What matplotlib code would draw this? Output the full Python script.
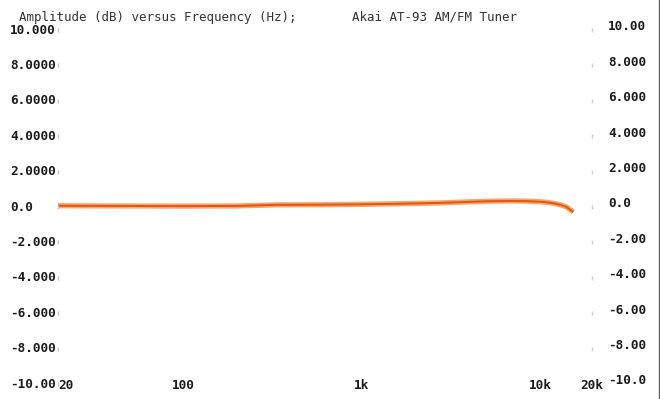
import numpy as np
import matplotlib
matplotlib.use("Agg")
import matplotlib.pyplot as plt
from matplotlib.lines import Line2D

# response curve (Hz, dB)
freq_hz = [20, 40, 100, 200, 333, 600, 1000, 2000, 2700, 4000, 5300, 7000, 8400, 10000, 11000, 12000, 13000, 14000, 15300]
level_db = [0.07, 0.06, 0.05, 0.06, 0.12, 0.13, 0.15, 0.20, 0.23, 0.29, 0.33, 0.34, 0.33, 0.30, 0.26, 0.20, 0.12, 0.01, -0.28]

# axis labels as printed
y_ticks = [10, 8, 6, 4, 2, 0, -2, -4, -6, -8, -10]
y_left_labels = ["10.000", "8.0000", "6.0000", "4.0000", "2.0000", "0.0",
                 "-2.000", "-4.000", "-6.000", "-8.000", "-10.00"]
y_right_labels = ["10.00", "8.000", "6.000", "4.000", "2.000", "0.0",
                  "-2.00", "-4.00", "-6.00", "-8.00", "-10.0"]
x_ticks = [20, 100, 1000, 10000, 20000]
x_labels = ["20", "100", "1k", "10k", "20k"]

title_left = "Amplitude (dB) versus Frequency (Hz);"
title_right = "Akai AT-93 AM/FM Tuner"

W, H = 660, 399
fig = plt.figure(figsize=(W / 100, H / 100), dpi=100)
x0, x1 = 58, 594
y_top, y_bot = 30, 384
ax = fig.add_axes([x0 / W, (H - y_bot) / H, (x1 - x0) / W, (y_bot - y_top) / H])
ax.set_xscale("log")
ax.set_xlim(20, 20000)
ax.set_ylim(-10, 10)
ax.axis("off")

# curve: orange halo with a redder core
ax.plot(freq_hz, level_db, color="#f6a862", lw=3.8, solid_capstyle="butt")
ax.plot(freq_hz, level_db, color="#e4521e", lw=1.4, solid_capstyle="butt")

mono = dict(family="DejaVu Sans Mono", fontsize=9.2, color="#1c1c1c", weight="bold")
ytr = ax.get_yaxis_transform()
for v, lab_l, lab_r in zip(y_ticks, y_left_labels, y_right_labels):
    ax.text((10 - x0) / (x1 - x0), v, lab_l, transform=ytr, ha="left", va="center", **mono)
    ax.text((608 - x0) / (x1 - x0), v + 0.17, lab_r, transform=ytr, ha="left", va="center", **mono)

# faint marks next to the scale labels
ax.plot([20] * len(y_ticks), y_ticks, ls="none", marker="|", ms=2.5, color="#c8c8c8", clip_on=False)
ax.plot([20000 * 0.97] * len(y_ticks), y_ticks, ls="none", marker="|", ms=2.5, color="#d0d0d0", clip_on=False)

xtr = ax.get_xaxis_transform()
for f, lab in zip(x_ticks, x_labels):
    ha = "left" if f == 20 else "center"
    xf = f * 1.005 if f == 20 else f * 0.97 if f == 20000 else f
    ax.text(xf, -0.003, lab, transform=xtr, ha=ha, va="center", **mono)

title = dict(family="DejaVu Sans Mono", fontsize=9.0, color="#333333")
fig.text(19 / W, 1 - 17 / H, title_left, ha="left", va="center", **title)
fig.text(352 / W, 1 - 17 / H, title_right, ha="left", va="center", **title)

# right edge line of the scanned page
fig.add_artist(Line2D([658.5 / W, 658.5 / W], [0, 1], transform=fig.transFigure,
                      color="#606060", lw=1))

fig.savefig("out.png", dpi=100, facecolor="white")
